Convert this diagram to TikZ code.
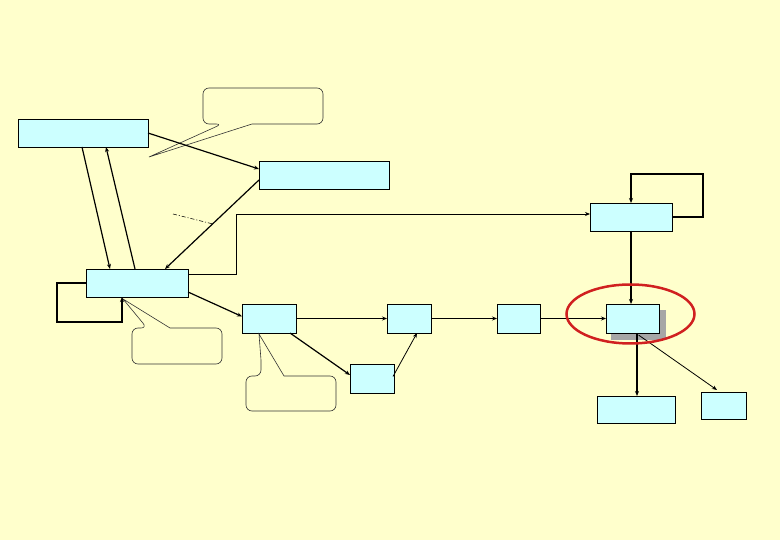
\documentclass[tikz,border=0pt]{standalone}
\usetikzlibrary{arrows.meta,calc}
\definecolor{bgyel}{HTML}{FFFFCC}
\definecolor{boxcyan}{HTML}{CCFFFF}
\definecolor{ringred}{HTML}{D02020}
\tikzset{
  box/.style={draw=black, fill=boxcyan, line width=0.8pt, rectangle, inner sep=0pt, outer sep=0pt, anchor=north west},
  conn/.style={line width=1.2pt, -{Stealth[length=5pt,width=4pt]}},
  thinconn/.style={line width=0.8pt, -{Stealth[length=5pt,width=4pt]}},
  callout/.style={draw=black!80, line width=0.6pt, fill=bgyel}
}
\begin{document}
\begin{tikzpicture}[x=1pt,y=-1pt]
\fill[bgyel] (0,0) rectangle (780,540);
\useasboundingbox (0,0) rectangle (780,540);

% shadow of H
\fill[black!35] (611,310) rectangle (666,340);

\node[box, minimum width=130pt, minimum height=28pt] (A) at (18,119) {};
\node[box, minimum width=130pt, minimum height=28pt] (B) at (259,161) {};
\node[box, minimum width=82pt, minimum height=28pt] (C) at (590,203) {};
\node[box, minimum width=102pt, minimum height=28pt] (D) at (86,269) {};
\node[box, minimum width=54pt, minimum height=29pt] (E) at (242,304) {};
\node[box, minimum width=44pt, minimum height=29pt] (F) at (387,304) {};
\node[box, minimum width=43pt, minimum height=29pt] (G) at (497,304) {};
\node[box, minimum width=53pt, minimum height=29pt] (H) at (606,304) {};
\node[box, minimum width=44pt, minimum height=29pt] (I) at (350,364) {};
\node[box, minimum width=78pt, minimum height=27pt] (J) at (597,396) {};
\node[box, minimum width=45pt, minimum height=27pt] (K) at (701,392) {};

% callouts
\draw[callout, rounded corners=6pt] (222,124) [sharp corners]-- (149,157) -- (252,124) [rounded corners=6pt]-- (323,124) -- (323,88) -- (203,88) -- (203,124) -- cycle;
\draw[callout, rounded corners=6pt] (147,328) [sharp corners]-- (123,299) -- (170,328) [rounded corners=6pt]-- (222,328) -- (222,364) -- (132,364) -- (132,328) -- cycle;
\draw[callout, rounded corners=6pt] (261,376) [sharp corners]-- (261,360) -- (259,334) -- (284,376) [rounded corners=6pt]-- (336,376) -- (336,411) -- (246,411) -- (246,376) -- cycle;

% connectors
\draw[conn] ($(A.south west)+(64,0)$) -- ($(D.north west)+(24,0)$);
\draw[conn] ($(D.north west)+(49,0)$) -- ($(A.south west)+(88,0)$);
\draw[conn] (A.east) -- ($(B.west)+(0,-6)$);
\draw[conn] ($(B.south west)+(0,-9)$) -- ($(D.north west)+(79,0)$);
\draw[line width=0.6pt, dash pattern=on 4pt off 2pt on 1pt off 2pt] (173,214) -- (213,224);
\draw[thinconn] ($(D.east)+(0,-9)$) -- ++(48,0) |- ($(C.west)+(0,-3)$);
\draw[line width=1.5pt, -{Stealth[length=5pt,width=4pt]}] (D.west) -- ++(-29,0) -- ++(0,39) -| ($(D.south west)+(36,0)$);
\draw[conn] ($(D.east)+(0,9)$) -- ($(E.west)+(0,-2)$);
\draw[conn] (E.east) -- (F.west);
\draw[conn] ($(E.south east)+(-6,0)$) -- ($(I.west)+(0,-3.5)$);
\draw[thinconn] ($(I.east)+(-1,-2)$) -- ($(F.south)+(8,0)$);
\draw[conn] (F.east) -- (G.west);
\draw[conn] (G.east) -- (H.west);
\draw[line width=1.5pt, -{Stealth[length=5pt,width=4pt]}] (C.east) -- ++(31,0) -- ++(0,-43) -| (C.north);
\draw[conn] (C.south) -- (C.south |- H.north);
\coordinate (hj) at ($(H.south)+(4.5,0)$);
\draw[conn] (hj) -- (hj |- J.north);
\draw[thinconn] ($(H.south)+(6,2)$) -- ($(K.north west)+(16,-2)$);

% red ring
\draw[ringred, line width=2.5pt] (630.5,314) ellipse [x radius=64, y radius=29.5];
\end{tikzpicture}
\end{document}
